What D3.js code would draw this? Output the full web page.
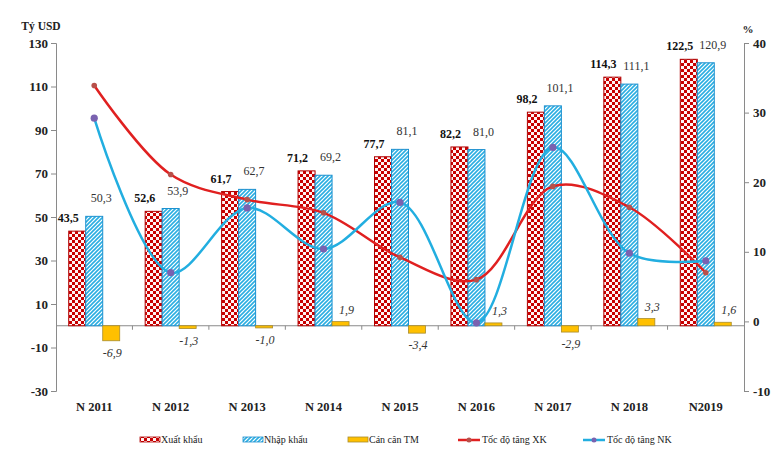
<!DOCTYPE html>
<html><head><meta charset="utf-8">
<script src="https://cdn.jsdelivr.net/npm/d3@7"></script>
<style>body{margin:0;background:#fff}svg{display:block}text{font-family:"Liberation Serif","Times New Roman",serif}</style>
</head><body><svg id="c" width="784" height="471"></svg>
<script>
const years = ["N 2011","N 2012","N 2013","N 2014","N 2015","N 2016","N 2017","N 2018","N2019"];
const exportVals = [43.5, 52.6, 61.7, 71.2, 77.7, 82.2, 98.2, 114.3, 122.5];
const importVals = [50.3, 53.9, 62.7, 69.2, 81.1, 81.0, 101.1, 111.1, 120.9];
const balanceVals = [-6.9, -1.3, -1.0, 1.9, -3.4, 1.3, -2.9, 3.3, 1.6];
const exportGrowth = [33.9, 21.1, 17.5, 15.6, 9.2, 6.0, 19.4, 16.4, 7.0];
const importGrowth = [29.2, 7.0, 16.3, 10.4, 17.1, -0.2, 25.0, 9.8, 8.7];
const leftTicks = [-30, -10, 10, 30, 50, 70, 90, 110, 130];
const rightTicks = [-10, 0, 10, 20, 30, 40];
const seriesNames = ["Xuất khẩu", "Nhập khẩu", "Cán cân TM", "Tốc độ tăng XK", "Tốc độ tăng NK"];

const fmt = v => d3.format(".1f")(v).replace(".", ",").replace("\u2212", "-");
const fmtInt = v => String(v);
const svg = d3.select("#c");
const L = 56, R = 744, T = 43, B = 391;
const x = d3.scaleBand().domain(years).range([L, R]);
const xi = d3.scaleBand().domain([0,1,2]).range([-25.5, 25.5]);
const yL = d3.scaleLinear().domain([-30, 130]).range([B, T]);
const yR = d3.scaleLinear().domain([-10, 40]).range([B, T]);
const axisCol = "#8a8a8a";

const defs = svg.append("defs");
const pc = defs.append("pattern").attr("id","checker").attr("patternUnits","userSpaceOnUse").attr("width",6).attr("height",6);
pc.append("rect").attr("width",6).attr("height",6).attr("fill","#fff4f4");
pc.append("rect").attr("width",3).attr("height",3).attr("fill","#c80000");
pc.append("rect").attr("x",3).attr("y",3).attr("width",3).attr("height",3).attr("fill","#c80000");
const ph = defs.append("pattern").attr("id","hatch").attr("patternUnits","userSpaceOnUse").attr("width",4).attr("height",4);
ph.append("rect").attr("width",4).attr("height",4).attr("fill","#ffffff");
ph.append("path").attr("d","M-1,1 l2,-2 M0,4 l4,-4 M3,5 l2,-2").attr("stroke","#2aaee2").attr("stroke-width",1.6);

// axes
const ga = svg.append("g").attr("transform",`translate(${L},0)`)
  .call(d3.axisLeft(yL).tickValues(leftTicks).tickSize(5).tickPadding(3).tickFormat(fmtInt));
const gb = svg.append("g").attr("transform",`translate(${R},0)`)
  .call(d3.axisRight(yR).tickValues(rightTicks).tickSize(5).tickPadding(4).tickFormat(fmtInt));
[ga, gb].forEach(g => {
  g.selectAll("path,line").attr("stroke", axisCol);
  g.selectAll("text").attr("font-size", 13).attr("font-weight", "bold").attr("fill", "#222");
});
// zero line with category boundary ticks
const y0 = yL(0);
svg.append("line").attr("x1",L).attr("x2",R).attr("y1",y0).attr("y2",y0).attr("stroke",axisCol);
svg.append("g").selectAll("line").data(years.slice(1)).join("line")
  .attr("x1",d=>x(d)).attr("x2",d=>x(d)).attr("y1",y0).attr("y2",y0+4).attr("stroke",axisCol);
// category labels
svg.append("g").selectAll("text").data(years).join("text")
  .attr("x",d=>x(d)+x.bandwidth()/2).attr("y",411).attr("text-anchor","middle")
  .attr("font-size",12.5).attr("font-weight","bold").attr("fill","#222").text(d=>d);
// axis titles
svg.append("text").attr("x",41).attr("y",30).attr("text-anchor","middle").attr("font-size",11.5).attr("font-weight","bold").attr("fill","#222").text("Tỷ USD");
svg.append("text").attr("x",748).attr("y",33).attr("text-anchor","middle").attr("font-size",11).attr("font-weight","bold").attr("fill","#222").text("%");

// bars
const bw = xi.bandwidth();
function bars(vals, idx, fill, stroke, sw) {
  svg.append("g").selectAll("rect").data(vals).join("rect")
    .attr("x",(d,i)=>x(years[i])+x.bandwidth()/2+xi(idx))
    .attr("y",d=>yL(Math.max(0,d)))
    .attr("width",bw)
    .attr("height",d=>Math.abs(yL(d)-yL(0)))
    .attr("fill",fill).attr("stroke",stroke).attr("stroke-width",sw);
}
bars(exportVals, 0, "url(#checker)", "#b00000", 1);
bars(importVals, 1, "url(#hatch)", "#1c90cf", 1);
bars(balanceVals, 2, "#ffc000", "#a88c2c", 0.8);

// value labels
const cx = (i, idx) => x(years[i]) + x.bandwidth()/2 + xi(idx) + bw/2;
svg.append("g").selectAll("text").data(exportVals).join("text")
  .attr("x",(d,i)=>cx(i,0)-9).attr("y",d=>yL(d)-9).attr("text-anchor","middle")
  .attr("font-size",12).attr("font-weight","bold").attr("fill","#111").text(fmt);
svg.append("g").selectAll("text").data(importVals).join("text")
  .attr("x",(d,i)=>cx(i,1)+7).attr("y",d=>yL(d)-14).attr("text-anchor","middle")
  .attr("font-size",12).attr("fill","#333").text(fmt);
svg.append("g").selectAll("text").data(balanceVals).join("text")
  .attr("x",(d,i)=>cx(i,2)+(d<0?1:6)).attr("y",d=>d<0?yL(d)+16:yL(d)-8).attr("text-anchor","middle")
  .attr("font-size",12).attr("font-style","italic").attr("fill","#333").text(fmt);

// lines
const line = d3.line().x((d,i)=>x(years[i])+x.bandwidth()/2).y(d=>yR(d)).curve(d3.curveCatmullRom.alpha(0.5));
svg.append("path").datum(exportGrowth).attr("d",line).attr("fill","none").attr("stroke","#e02020").attr("stroke-width",2.5);
svg.append("g").selectAll("circle").data(exportGrowth).join("circle")
  .attr("cx",(d,i)=>x(years[i])+x.bandwidth()/2).attr("cy",d=>yR(d)).attr("r",2.8).attr("fill","#b8504a");
svg.append("path").datum(importGrowth).attr("d",line).attr("fill","none").attr("stroke","#22aee0").attr("stroke-width",2.5);
svg.append("g").selectAll("circle").data(importGrowth).join("circle")
  .attr("cx",(d,i)=>x(years[i])+x.bandwidth()/2).attr("cy",d=>yR(d)).attr("r",3.6).attr("fill","#7a62b0");

// legend
const lg = svg.append("g");
const ly = 440;
const lx = [140, 243, 348, 458, 583];
[0,1,2].forEach(k => {
  const fills = ["url(#checker)","url(#hatch)","#ffc000"], strokes = ["#b00000","#1c90cf","#a88c2c"];
  lg.append("rect").attr("x",lx[k]).attr("y",ly-3).attr("width",20).attr("height",5).attr("fill",fills[k]).attr("stroke",strokes[k]).attr("stroke-width",0.8);
  lg.append("text").attr("x",lx[k]+21).attr("y",ly+3).attr("font-size",10).attr("fill","#222").text(seriesNames[k]);
});
[[3,"#e02020","#b8504a"],[4,"#22aee0","#7a62b0"]].forEach(([k,c,m]) => {
  lg.append("line").attr("x1",lx[k]).attr("x2",lx[k]+22).attr("y1",ly).attr("y2",ly).attr("stroke",c).attr("stroke-width",2.5);
  lg.append("circle").attr("cx",lx[k]+11).attr("cy",ly).attr("r",2.5).attr("fill",m);
  lg.append("text").attr("x",lx[k]+24).attr("y",ly+3).attr("font-size",10).attr("fill","#222").text(seriesNames[k]);
});
</script></body></html>
